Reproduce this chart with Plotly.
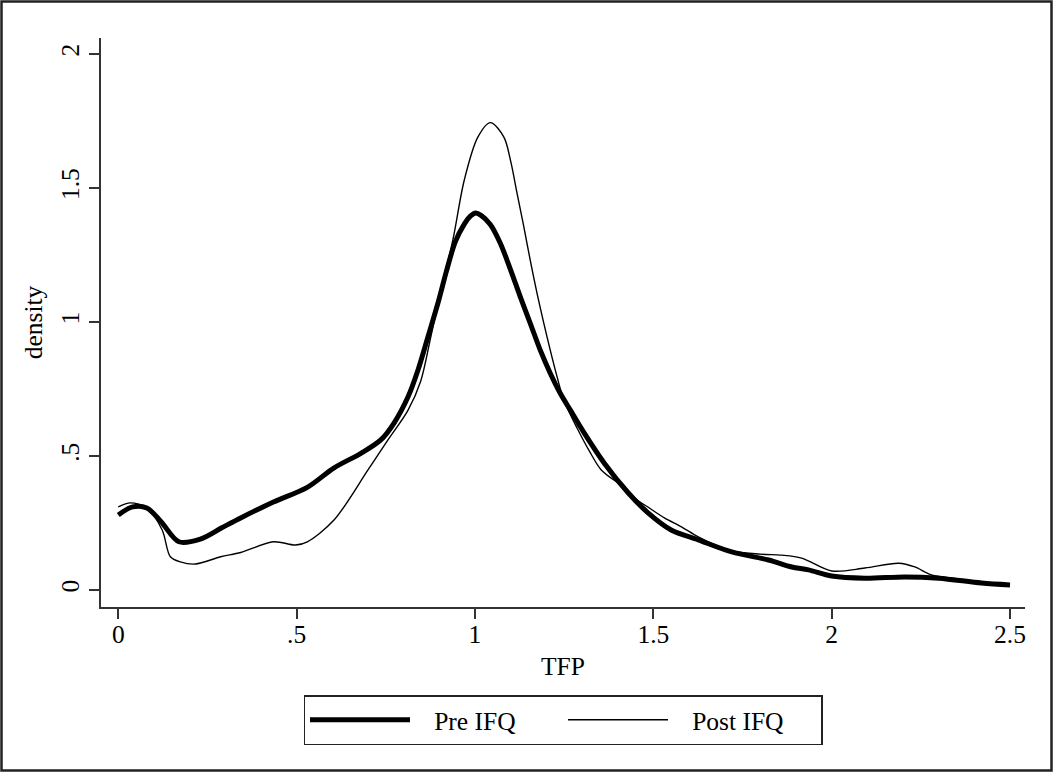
import plotly.graph_objects as go

# ---- data ----
pre_x = [0, 0.04, 0.08, 0.12, 0.17, 0.23, 0.29, 0.343, 0.435, 0.531, 0.604, 0.68,
         0.736, 0.773, 0.812, 0.84, 0.868, 0.896, 0.92, 0.945, 0.97, 0.987, 1.002, 1.017,
         1.043, 1.071, 1.10, 1.127, 1.155, 1.183, 1.211, 1.239, 1.267, 1.306, 1.362,
         1.43, 1.486, 1.55, 1.626, 1.72, 1.823, 1.888, 1.935, 2.0, 2.093, 2.205, 2.3,
         2.42, 2.5]
pre_y = [0.28, 0.31, 0.306, 0.255, 0.18, 0.19, 0.232, 0.269, 0.328, 0.384, 0.455, 0.51,
         0.56, 0.623, 0.72, 0.82, 0.944, 1.07, 1.19, 1.3, 1.365, 1.395, 1.407, 1.398,
         1.364, 1.294, 1.194, 1.094, 0.995, 0.895, 0.809, 0.734, 0.672, 0.586, 0.474,
         0.362, 0.287, 0.224, 0.187, 0.142, 0.112, 0.086, 0.075, 0.052, 0.044, 0.049, 0.044,
         0.026, 0.019]

post_x = [0, 0.034, 0.08, 0.123, 0.146, 0.174, 0.216, 0.287, 0.343, 0.435, 0.497, 0.53,
          0.604, 0.70, 0.756, 0.812, 0.848, 0.876, 0.9, 0.938, 0.97, 1.008, 1.043,
          1.081, 1.10, 1.118, 1.137, 1.155, 1.174, 1.193, 1.211, 1.23, 1.249, 1.289,
          1.32, 1.354, 1.41, 1.447, 1.49, 1.531, 1.58, 1.626, 1.71, 1.80, 1.86, 1.916,
          2.0, 2.093, 2.188, 2.233, 2.28, 2.35, 2.42, 2.5]
post_y = [0.31, 0.325, 0.306, 0.224, 0.124, 0.105, 0.097, 0.124, 0.14, 0.18, 0.168, 0.18,
          0.26, 0.448, 0.56, 0.67, 0.78, 0.944, 1.09, 1.306, 1.53, 1.69, 1.744,
          1.69, 1.60, 1.48, 1.355, 1.23, 1.107, 0.995, 0.895, 0.796, 0.709, 0.597,
          0.52, 0.448, 0.39, 0.343, 0.305, 0.269, 0.235, 0.198, 0.149, 0.134, 0.13, 0.119,
          0.071, 0.082, 0.10, 0.086, 0.056, 0.042, 0.026, 0.019]

x_ticks = [0, 0.5, 1, 1.5, 2, 2.5]
x_ticklabels = ["0", ".5", "1", "1.5", "2", "2.5"]
y_ticks = [0, 0.5, 1, 1.5, 2]
y_ticklabels = ["0", ".5", "1", "1.5", "2"]

FONT = "Liberation Serif, Times New Roman, serif"
FS = 25.5
W, H = 1053, 772
ML, MR, MT, MB = 101, 28, 38, 165
GAP = "\u00a0\u00a0\u00a0"

fig = go.Figure()
fig.add_trace(go.Scatter(x=pre_x, y=pre_y, mode="lines", name=GAP + "Pre IFQ",
                         line=dict(color="black", width=5, shape="spline", smoothing=0.9)))
fig.add_trace(go.Scatter(x=post_x, y=post_y, mode="lines", name=GAP + "Post IFQ",
                         line=dict(color="black", width=1.4, shape="spline", smoothing=0.9)))

pw = W - ML - MR
ph = H - MT - MB
fig.add_shape(type="rect", xref="paper", yref="paper",
              x0=-(ML - 1.5) / pw, x1=1 + (MR - 1.5) / pw,
              y0=-(MB - 1.5) / ph, y1=1 + (MT - 1.5) / ph,
              line=dict(color="#222", width=2.5), fillcolor="rgba(0,0,0,0)", layer="below")

fig.update_layout(
    width=W, height=H,
    margin=dict(l=ML, r=MR, t=MT, b=MB),
    paper_bgcolor="white", plot_bgcolor="white",
    font=dict(family=FONT, size=FS, color="black"),
    showlegend=True,
    legend=dict(orientation="h", x=0.5, xanchor="center", y=-0.155, yanchor="top",
                bordercolor="#222", borderwidth=1.5, bgcolor="white",
                itemwidth=100, entrywidth=143, font=dict(family=FONT, size=FS)),
    xaxis=dict(range=[-0.0485, 2.542], showgrid=False, zeroline=False,
               showline=True, linecolor="#333", linewidth=1.5,
               ticks="outside", ticklen=10, tickwidth=1.5, tickcolor="#333",
               tickvals=x_ticks, ticktext=x_ticklabels, ticklabelstandoff=-6,
               tickfont=dict(family=FONT, size=FS),
               title=dict(text="TFP", font=dict(family=FONT, size=FS), standoff=9)),
    yaxis=dict(range=[-0.0634, 2.0597], showgrid=False, zeroline=False,
               showline=True, linecolor="#333", linewidth=1.5,
               ticks="outside", ticklen=10, tickwidth=1.5, tickcolor="#333",
               tickvals=y_ticks, ticktext=y_ticklabels, tickangle=-90,
               tickfont=dict(family=FONT, size=FS),
               title=dict(text="density", font=dict(family=FONT, size=FS), standoff=6)),
)

fig.write_html("out.html", post_script="document.body.style.margin='0';",
               config={"displayModeBar": False})
